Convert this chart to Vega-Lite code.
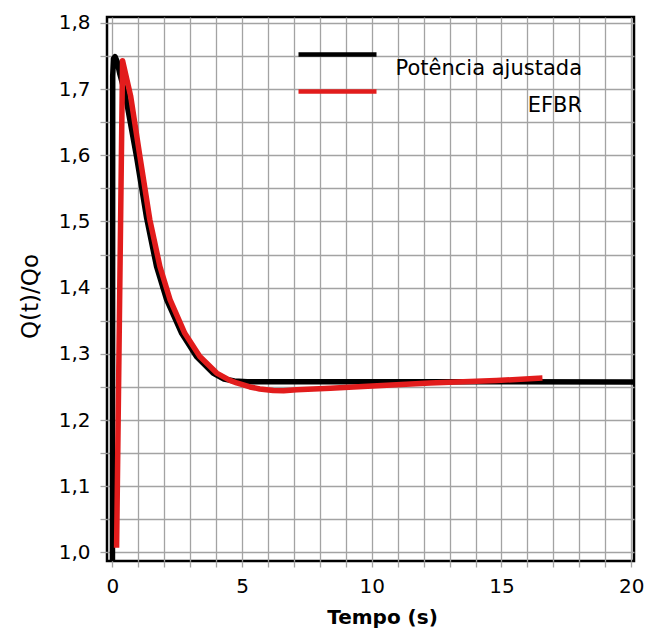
{
  "$schema": "https://vega.github.io/schema/vega-lite/v6.json",
  "width": 527,
  "height": 544,
  "autosize": {"type": "none"},
  "padding": {"left": 107, "top": 17, "right": 22, "bottom": 71},
  "background": "white",
  "config": {
    "font": "DejaVu Sans",
    "view": {"stroke": "black", "strokeWidth": 2.5},
    "axis": {
      "domain": false,
      "grid": true,
      "gridColor": "#a3a3a3",
      "gridWidth": 1.3,
      "tickColor": "#a3a3a3",
      "tickWidth": 1.3,
      "labelColor": "black",
      "titleColor": "black",
      "labelFont": "DejaVu Sans",
      "titleFont": "DejaVu Sans",
      "labelFlush": false,
      "labelOverlap": false
    },
    "legend": {
      "labelFont": "DejaVu Sans"
    }
  },
  "data": {
    "values": [
      {"t": 0.0, "q": 0.95, "s": "Potência ajustada"},
      {"t": 0.01, "q": 1.72, "s": "Potência ajustada"},
      {"t": 0.04, "q": 1.746, "s": "Potência ajustada"},
      {"t": 0.1, "q": 1.749, "s": "Potência ajustada"},
      {"t": 0.18, "q": 1.742, "s": "Potência ajustada"},
      {"t": 0.29, "q": 1.722, "s": "Potência ajustada"},
      {"t": 0.48, "q": 1.695, "s": "Potência ajustada"},
      {"t": 0.93, "q": 1.598, "s": "Potência ajustada"},
      {"t": 1.32, "q": 1.505, "s": "Potência ajustada"},
      {"t": 1.7, "q": 1.432, "s": "Potência ajustada"},
      {"t": 2.09, "q": 1.382, "s": "Potência ajustada"},
      {"t": 2.67, "q": 1.331, "s": "Potência ajustada"},
      {"t": 3.24, "q": 1.296, "s": "Potência ajustada"},
      {"t": 3.88, "q": 1.271, "s": "Potência ajustada"},
      {"t": 4.3, "q": 1.262, "s": "Potência ajustada"},
      {"t": 4.7, "q": 1.259, "s": "Potência ajustada"},
      {"t": 5.2, "q": 1.258, "s": "Potência ajustada"},
      {"t": 10, "q": 1.258, "s": "Potência ajustada"},
      {"t": 15, "q": 1.2578, "s": "Potência ajustada"},
      {"t": 20.3, "q": 1.2575, "s": "Potência ajustada"},
      {"t": 0.16, "q": 1.007, "s": "EFBR"},
      {"t": 0.39, "q": 1.743, "s": "EFBR"},
      {"t": 0.7, "q": 1.69, "s": "EFBR"},
      {"t": 1.06, "q": 1.598, "s": "EFBR"},
      {"t": 1.44, "q": 1.503, "s": "EFBR"},
      {"t": 1.83, "q": 1.432, "s": "EFBR"},
      {"t": 2.22, "q": 1.382, "s": "EFBR"},
      {"t": 2.79, "q": 1.331, "s": "EFBR"},
      {"t": 3.37, "q": 1.296, "s": "EFBR"},
      {"t": 4.02, "q": 1.271, "s": "EFBR"},
      {"t": 4.53, "q": 1.26, "s": "EFBR"},
      {"t": 4.79, "q": 1.256, "s": "EFBR"},
      {"t": 5.3, "q": 1.25, "s": "EFBR"},
      {"t": 5.68, "q": 1.247, "s": "EFBR"},
      {"t": 6.2, "q": 1.2446, "s": "EFBR"},
      {"t": 6.6, "q": 1.2442, "s": "EFBR"},
      {"t": 7.1, "q": 1.2456, "s": "EFBR"},
      {"t": 8.4, "q": 1.248, "s": "EFBR"},
      {"t": 9.66, "q": 1.2506, "s": "EFBR"},
      {"t": 12.24, "q": 1.2558, "s": "EFBR"},
      {"t": 14.8, "q": 1.2597, "s": "EFBR"},
      {"t": 16.58, "q": 1.2634, "s": "EFBR"}
    ]
  },
  "mark": {"type": "line", "strokeWidth": 5.5, "clip": true, "strokeJoin": "round"},
  "encoding": {
    "x": {
      "field": "t",
      "type": "quantitative",
      "scale": {"domain": [-0.21, 20.11], "nice": false, "zero": false},
      "axis": {
        "values": [0,1,2,3,4,5,6,7,8,9,10,11,12,13,14,15,16,17,18,19,20],
        "labelExpr": "datum.value % 5 === 0 ? datum.label : ''",
        "tickSize": 6,
        "labelPadding": 9,
        "labelFontSize": 20,
        "title": "Tempo (s)",
        "titleFontSize": 20,
        "titleFontWeight": "bold",
        "titleX": 275,
        "titleY": 62,
        "titleBaseline": "alphabetic",
        "titleAlign": "center"
      }
    },
    "y": {
      "field": "q",
      "type": "quantitative",
      "scale": {"domain": [0.987, 1.809], "nice": false, "zero": false},
      "axis": {
        "values": [1.0,1.05,1.1,1.15,1.2,1.25,1.3,1.35,1.4,1.45,1.5,1.55,1.6,1.65,1.7,1.75,1.8],
        "labelExpr": "abs(datum.value*10 - round(datum.value*10)) < 0.001 ? replace(format(datum.value, '.1f'), '.', ',') : ''",
        "tickSize": 7,
        "labelPadding": 10,
        "labelFontSize": 20,
        "title": "Q(t)/Qo",
        "titleFontSize": 23,
        "titleFontWeight": "normal",
        "titleX": -70,
        "titleY": 279,
        "titleBaseline": "alphabetic",
        "titleAlign": "center"
      }
    },
    "color": {
      "field": "s",
      "type": "nominal",
      "sort": ["Potência ajustada", "EFBR"],
      "scale": {"domain": ["Potência ajustada", "EFBR"], "range": ["black", "#e21c1c"]},
      "legend": {
        "title": null,
        "orient": "none",
        "legendX": 218,
        "legendY": 25,
        "padding": 0,
        "symbolType": "M-3.9,0H3.9",
        "symbolSize": 400,
        "symbolStrokeWidth": 4.5,
        "labelAlign": "right",
        "labelBaseline": "top",
        "labelOffset": 232,
        "labelFontSize": 21,
        "labelColor": "black",
        "labelLimit": 0,
        "rowPadding": 0,
        "encode": {"labels": {"update": {"dy": {"value": 3}}}}
      }
    },
    "order": {"field": "s", "sort": "descending"}
  }
}
